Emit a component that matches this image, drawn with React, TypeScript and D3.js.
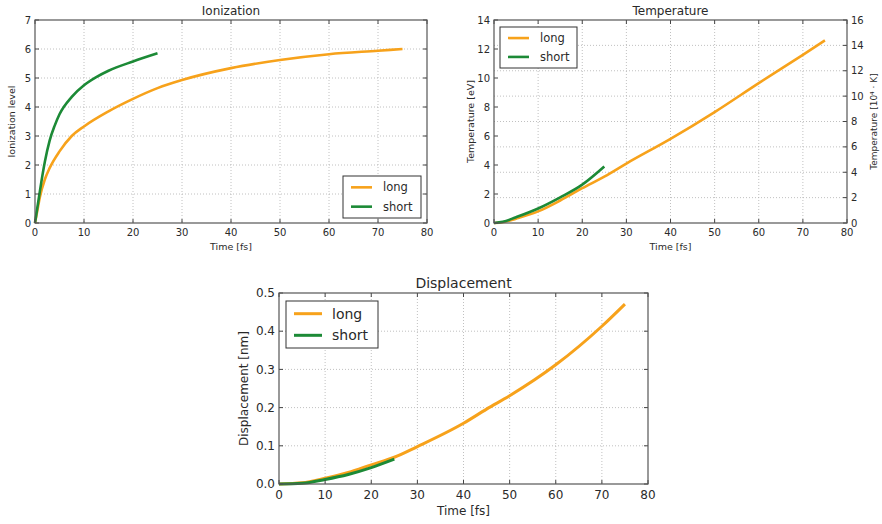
import React from 'react'
import * as d3 from 'd3'

/* values */
const ionTimeLong = [0, 0.5, 1, 2, 3, 5, 7.5, 10, 15, 20, 25, 30, 40, 50, 60, 70, 75]
const ionLong = [0, 0.45, 0.9, 1.5, 1.9, 2.47, 3.0, 3.33, 3.85, 4.28, 4.65, 4.93, 5.34, 5.62, 5.82, 5.94, 6.0]
const ionTimeShort = [0, 0.5, 1, 2, 3, 4, 5, 7.5, 10, 12.5, 15, 20, 25]
const ionShort = [0, 0.55, 1.1, 2.1, 2.85, 3.35, 3.75, 4.35, 4.75, 5.03, 5.25, 5.57, 5.85]

const tempTimeLong = [0, 2, 5, 10, 15, 20, 25, 30, 40, 50, 60, 70, 75]
const tempLong = [0, 0.05, 0.3, 0.8, 1.55, 2.4, 3.2, 4.1, 5.8, 7.65, 9.65, 11.6, 12.6]
const tempTimeShort = [0, 2, 5, 10, 15, 20, 25]
const tempShort = [0, 0.08, 0.4, 1.0, 1.77, 2.65, 3.9]

const dispTimeLong = [0, 5, 10, 15, 20, 25, 30, 40, 45, 50, 60, 70, 75]
const dispLong = [0, 0.003, 0.015, 0.03, 0.05, 0.07, 0.098, 0.159, 0.196, 0.231, 0.312, 0.413, 0.471]
const dispTimeShort = [0, 5, 10, 15, 20, 25]
const dispShort = [0, 0.002, 0.012, 0.025, 0.043, 0.065]

const timeTicks = [0, 10, 20, 30, 40, 50, 60, 70, 80]
const ionTicks = [0, 1, 2, 3, 4, 5, 6, 7]
const tempTicks = [0, 2, 4, 6, 8, 10, 12, 14]
const tempKTicks = [0, 2, 4, 6, 8, 10, 12, 14, 16]
const dispTicks = [0, 0.1, 0.2, 0.3, 0.4, 0.5]
const seriesNames = ['long', 'short']

const ORANGE = '#f7a21b'
const GREEN = '#1c8a36'
const FONT = 'DejaVu Sans, sans-serif'
const TEXT = '#2a2a2a'

type Box = { left: number; right: number; top: number; bottom: number }

function Panel(props: {
    box: Box
    title: string
    yLabel: string
    yDomain: [number, number]
    yTicks: number[]
    yFormat: (d: number) => string
    long: [number[], number[]]
    short: [number[], number[]]
    legend: { x: number; y: number; w: number; h: number }
    fs: number
    big?: boolean
    right?: { label: string; domain: [number, number]; ticks: number[] }
}) {
    const { box, fs } = props
    const x = d3.scaleLinear().domain([0, 80]).range([box.left, box.right])
    const y = d3.scaleLinear().domain(props.yDomain).range([box.bottom, box.top])
    const yR = props.right
        ? d3.scaleLinear().domain(props.right.domain).range([box.bottom, box.top])
        : null
    const line = d3
        .line<[number, number]>()
        .x((d) => x(d[0]))
        .y((d) => y(d[1]))
        .curve(d3.curveMonotoneX)
    const pts = (s: [number[], number[]]) => s[0].map((t, i) => [t, s[1][i]] as [number, number])
    const lw = props.big ? 3 : 2.6
    const tick = 4
    const gridY = yR ? props.right!.ticks.map((t) => yR(t)) : props.yTicks.map((t) => y(t))
    const lg = props.legend
    return (
        <g fontFamily={FONT} fill={TEXT}>
            {/* grid */}
            {timeTicks.slice(1, -1).map((t) => (
                <line key={'gx' + t} x1={x(t)} x2={x(t)} y1={box.top} y2={box.bottom}
                    stroke="#b0b0b0" strokeWidth={0.8} strokeDasharray="1,2" />
            ))}
            {gridY.slice(1, -1).map((g, i) => (
                <line key={'gy' + i} x1={box.left} x2={box.right} y1={g} y2={g}
                    stroke="#b0b0b0" strokeWidth={0.8} strokeDasharray="1,2" />
            ))}
            {/* series */}
            <path d={line(pts(props.long)) || ''} fill="none" stroke={ORANGE} strokeWidth={lw} />
            <path d={line(pts(props.short)) || ''} fill="none" stroke={GREEN} strokeWidth={lw} />
            {/* ticks inside */}
            {timeTicks.map((t) => (
                <g key={'tx' + t}>
                    <line x1={x(t)} x2={x(t)} y1={box.bottom} y2={box.bottom - tick} stroke="#444" />
                    <line x1={x(t)} x2={x(t)} y1={box.top} y2={box.top + tick} stroke="#444" />
                    <text x={x(t)} y={box.bottom + fs + 3} fontSize={fs} textAnchor="middle">{t}</text>
                </g>
            ))}
            {props.yTicks.map((t) => (
                <g key={'ty' + t}>
                    <line x1={box.left} x2={box.left + tick} y1={y(t)} y2={y(t)} stroke="#444" />
                    {!yR && <line x1={box.right} x2={box.right - tick} y1={y(t)} y2={y(t)} stroke="#444" />}
                    <text x={box.left - 4} y={y(t)} dy="0.35em" fontSize={fs} textAnchor="end">{props.yFormat(t)}</text>
                </g>
            ))}
            {yR && props.right!.ticks.map((t) => (
                <g key={'tr' + t}>
                    <line x1={box.right} x2={box.right - tick} y1={yR(t)} y2={yR(t)} stroke="#444" />
                    <text x={box.right + 4} y={yR(t)} dy="0.35em" fontSize={fs} textAnchor="start">{t}</text>
                </g>
            ))}
            <rect x={box.left} y={box.top} width={box.right - box.left} height={box.bottom - box.top}
                fill="none" stroke="#555" strokeWidth={1.2} />
            {/* labels */}
            <text x={(box.left + box.right) / 2} y={box.top - 5} fontSize={props.big ? 14 : 12} textAnchor="middle">
                {props.title}
            </text>
            <text x={(box.left + box.right) / 2} y={box.bottom + (props.big ? 31 : 27)} fontSize={props.big ? 12 : 9.5} textAnchor="middle">
                Time [fs]
            </text>
            <text transform={`translate(${box.left - (props.big ? 31 : 20)},${(box.top + box.bottom) / 2}) rotate(-90)`}
                fontSize={props.big ? 12 : 9.5} textAnchor="middle">
                {props.yLabel}
            </text>
            {props.right && (
                <text transform={`translate(${box.right + 30},${(box.top + box.bottom) / 2}) rotate(-90)`}
                    fontSize={9} textAnchor="middle">
                    {props.right.label}
                </text>
            )}
            {/* legend */}
            <rect x={lg.x} y={lg.y} width={lg.w} height={lg.h} fill="#fff" stroke="#333" strokeWidth={1} />
            {seriesNames.map((n, i) => {
                const ly = lg.y + lg.h * (i === 0 ? 0.27 : 0.73)
                return (
                    <g key={n}>
                        <line x1={lg.x + 8} x2={lg.x + (props.big ? 36 : 29)} y1={ly} y2={ly}
                            stroke={i === 0 ? ORANGE : GREEN} strokeWidth={lw} />
                        <text x={lg.x + (props.big ? 46 : 40)} y={ly} dy="0.35em" fontSize={props.big ? 14 : 11.5}>{n}</text>
                    </g>
                )
            })}
        </g>
    )
}

export default function App() {
    return (
        <svg width={882} height={524} style={{ position: 'absolute', left: 0, top: 0, background: '#fff' }}>
            <Panel
                box={{ left: 35, right: 427, top: 20, bottom: 223 }}
                title="Ionization"
                yLabel="Ionization level"
                yDomain={[0, 7]}
                yTicks={ionTicks}
                yFormat={(d) => String(d)}
                long={[ionTimeLong, ionLong]}
                short={[ionTimeShort, ionShort]}
                legend={{ x: 343, y: 176, w: 78, h: 42 }}
                fs={10}
            />
            <Panel
                box={{ left: 494, right: 847, top: 20, bottom: 223 }}
                title="Temperature"
                yLabel="Temperature [eV]"
                yDomain={[0, 14]}
                yTicks={tempTicks}
                yFormat={(d) => String(d)}
                long={[tempTimeLong, tempLong]}
                short={[tempTimeShort, tempShort]}
                legend={{ x: 500, y: 27, w: 77, h: 41 }}
                fs={10}
                right={{ label: 'Temperature [10⁴ · K]', domain: [0, 16], ticks: tempKTicks }}
            />
            <Panel
                box={{ left: 279, right: 648, top: 293, bottom: 484 }}
                title="Displacement"
                yLabel="Displacement [nm]"
                yDomain={[0, 0.5]}
                yTicks={dispTicks}
                yFormat={(d) => d.toFixed(1)}
                long={[dispTimeLong, dispLong]}
                short={[dispTimeShort, dispShort]}
                legend={{ x: 286, y: 301, w: 92, h: 47 }}
                fs={12}
                big
            />
        </svg>
    )
}
